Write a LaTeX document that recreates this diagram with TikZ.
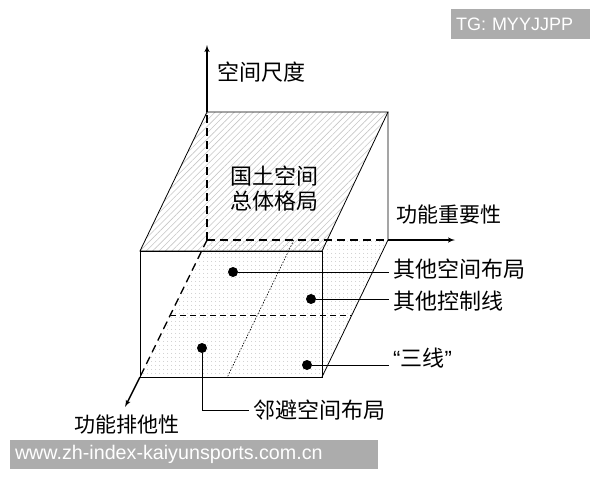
\documentclass[tikz,border=0pt]{standalone}
\usepackage{fontspec}
\setmainfont{Liberation Sans}
\newfontfamily\cjk{Noto Sans CJK SC}
\usetikzlibrary{arrows,calc,patterns.meta}

\begin{document}
\begin{tikzpicture}[x=1pt,y=-1pt]
\tikzset{axis/.style = {->,> = latex',line width=1.4pt}}
\tikzset{rim/.style = {line width=0.8pt}}
\tikzset{hidden/.style = {line width=1.3pt,dash pattern=on 8pt off 5pt}}
\tikzset{spot/.style = {shape=circle,fill=black,inner sep=0pt,minimum size=10pt}}
\tikzset{tag/.style = {font=\cjk\fontsize{22}{25}\selectfont,inner sep=4pt,anchor=west}}
\tikzset{axlabel/.style = {font=\cjk\fontsize{21}{24}\selectfont,inner sep=0pt}}
\tikzset{markbox/.style = {fill=gray!65,text=white,inner xsep=5pt,inner ysep=0pt,align=left}}
\useasboundingbox (0,0) rectangle (600,480);

% corners of the box
\coordinate (o) at (207,240);
\coordinate (bt) at (207,112);
\coordinate (br) at (388,240);
\coordinate (brt) at (388,112);
\coordinate (fl) at (140,377);
\coordinate (flt) at (140,251);
\coordinate (fr) at (322,377);
\coordinate (frt) at (322,251);
\coordinate (ztip) at (207,45);
\coordinate (xtip) at (455,240);
\coordinate (ytip) at (125,407);

% lower face and upper face
\fill[pattern={Dots[distance=4pt,radius=0.55pt]},pattern color=gray!60] (o) -- (br) -- (fr) -- (fl) -- cycle;
\fill[pattern={Lines[angle=45,distance=4.5pt,line width=0.6pt]},pattern color=gray!45]
  (bt) -- (brt) -- (frt) -- (flt) -- cycle;
\draw[hidden] (o) -- (bt);
\draw[hidden] (o) -- (br);
\draw[hidden] (o) -- (fl);
\draw[rim] (bt) -- (brt) -- (frt) -- (flt) -- cycle;
\draw[rim] (flt) rectangle (fr);
\draw[rim] (brt) -- (br) -- (fr);
\draw[rim,dash pattern=on 6pt off 4pt] ($(o)!0.55!(fl)$) -- ($(br)!0.55!(fr)$);
\draw[line width=0.6pt,dash pattern=on 1.5pt off 1.5pt] ($(o)!0.48!(br)$) -- ($(fl)!0.48!(fr)$);

\draw[axis] (bt) -- (ztip);
\draw[axis] (br) -- (xtip);
\draw[axis] (fl) -- (ytip);

\node[axlabel,font=\cjk\fontsize{22}{24}\selectfont] (zl) at (261,72) {空间尺度};
\node[axlabel] (xl) at (449,215) {功能重要性};
\node[axlabel] (yl) at (127,425) {功能排他性};
\node[font=\cjk\fontsize{22}{25}\selectfont,align=center] (top) at (274,189) {国土空间\\总体格局};

\foreach \pos/\name in {{(233,272)/d1}, {(311,299)/d2}, {(307,365)/d3}, {(202,348)/d4}}
\node[spot] (\name) at \pos {};

\node[tag] (l1) at (389,269) {其他空间布局};
\node[tag] (l2) at (389,301) {其他控制线};
\node[tag] (l3) at (389,358) {{\rmfamily “}三线{\rmfamily ”}};
\node[tag] (l4) at (249,410) {邻避空间布局};

\draw[rim] (d1) -- (d1 -| l1.west);
\draw[rim] (d2) -- (d2 -| l2.west);
\draw[rim] (d3) -- (d3 -| l3.west);
\draw[rim] (d4) |- (l4.west);

\node[markbox,minimum height=30pt,text width=129pt,font=\fontsize{18}{20}\selectfont] (tg) at (520.5,24) {TG: MYYJJPP};
\node[markbox,minimum height=29pt,text width=358pt,font=\fontsize{19.7}{22}\selectfont] (url) at (194,454.5) {www.zh-index-kaiyunsports.com.cn};
\end{tikzpicture}
\end{document}
